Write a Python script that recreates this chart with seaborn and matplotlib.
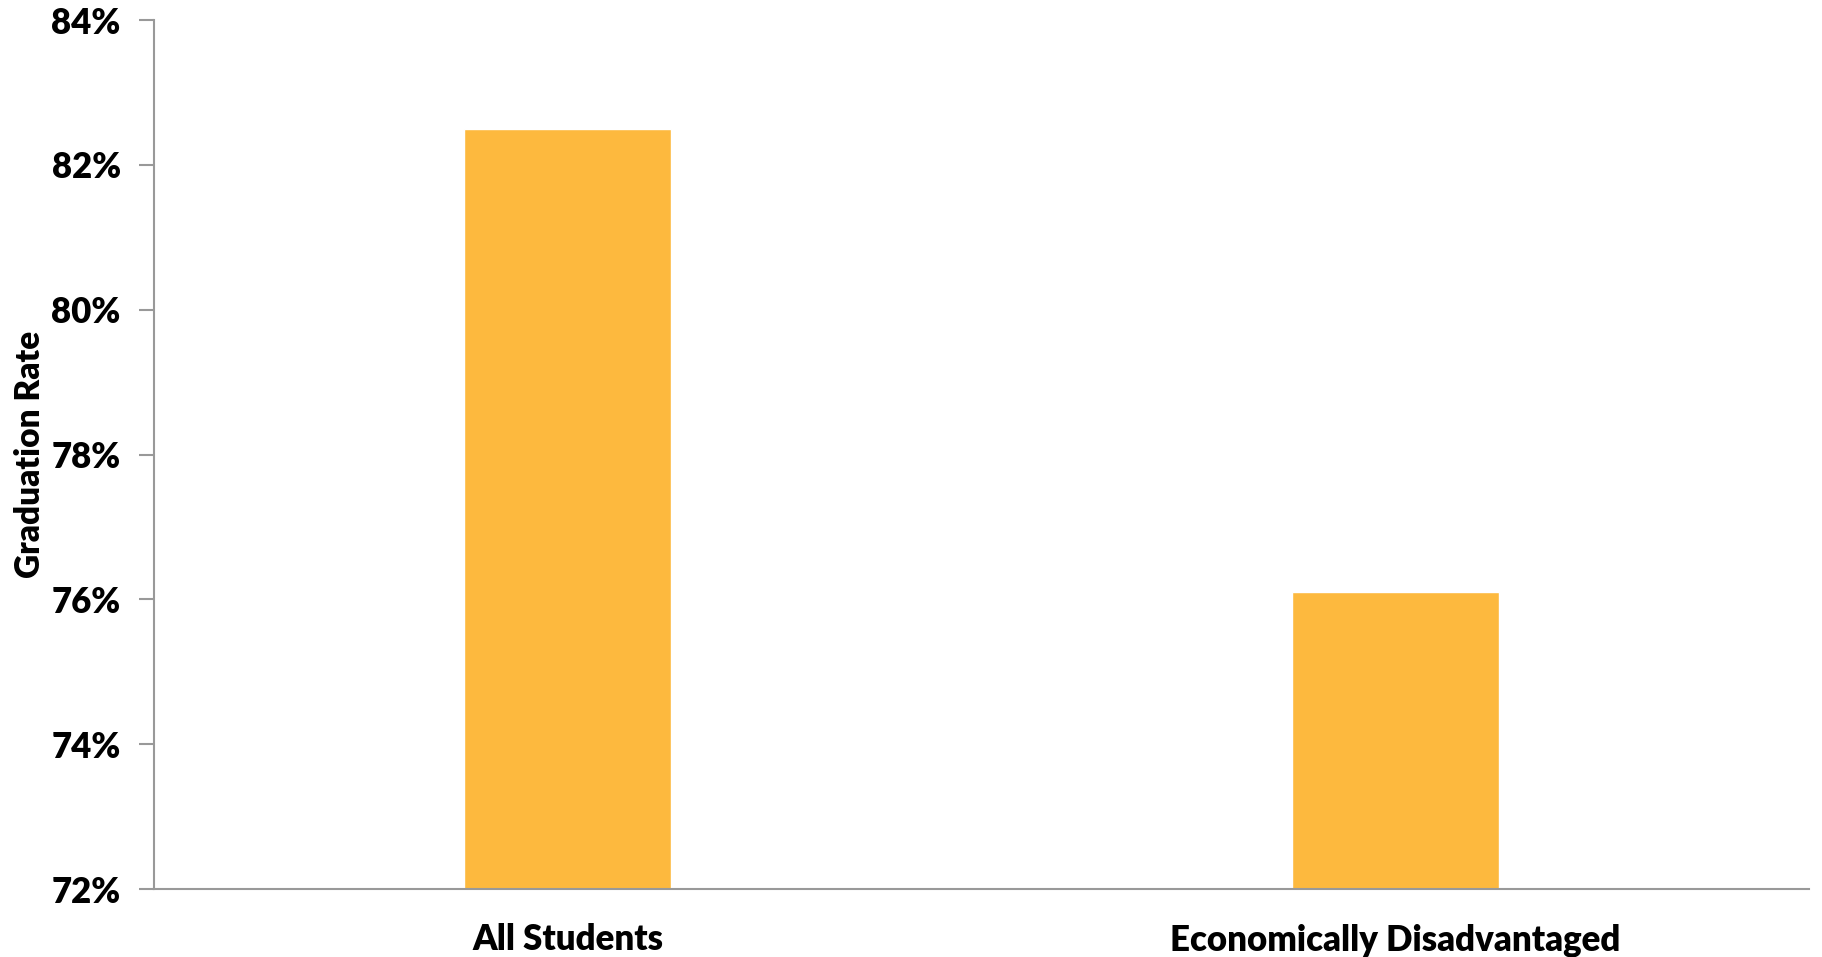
import pandas as pd
import matplotlib
matplotlib.use('Agg')
import matplotlib.pyplot as plt
import seaborn as sns
from matplotlib.ticker import FuncFormatter

# Data
groups = ['All Students', 'Economically Disadvantaged']
rates = [82.5, 76.1]

df = pd.DataFrame({'group': groups, 'rate': rates})

sns.set_style('white')
plt.rcParams['font.family'] = ['Lato', 'DejaVu Sans']
plt.rcParams['text.color'] = 'black'
plt.rcParams['xtick.color'] = 'black'
plt.rcParams['ytick.color'] = 'black'
plt.rcParams['axes.labelcolor'] = 'black'

fig, ax = plt.subplots(figsize=(18.22, 9.57), dpi=100)
fig.subplots_adjust(left=0.0845, right=0.993, top=0.979, bottom=0.071)

sns.barplot(data=df, x='group', y='rate', color='#FDB93E', saturation=1,
            width=0.25, ax=ax)

ax.set_ylim(72, 84)
ax.set_yticks([72, 74, 76, 78, 80, 82, 84])
ax.yaxis.set_major_formatter(FuncFormatter(lambda v, p: f'{v:.0f}%'))

for s in ['top', 'right']:
    ax.spines[s].set_visible(False)
for s in ['left', 'bottom']:
    ax.spines[s].set_color('#999999')
    ax.spines[s].set_linewidth(1.5)

ax.tick_params(axis='y', left=True, length=11, width=1.5, color='#999999',
               labelcolor='black', labelsize=25, pad=13)
ax.tick_params(axis='x', bottom=False, labelcolor='black', labelsize=25, pad=21)
for lab in ax.get_xticklabels() + ax.get_yticklabels():
    lab.set_fontweight('heavy')

ax.set_xlabel('')
ax.set_ylabel('Graduation Rate', fontsize=24, fontweight='heavy', labelpad=4)

fig.savefig('out.png', dpi=100)
